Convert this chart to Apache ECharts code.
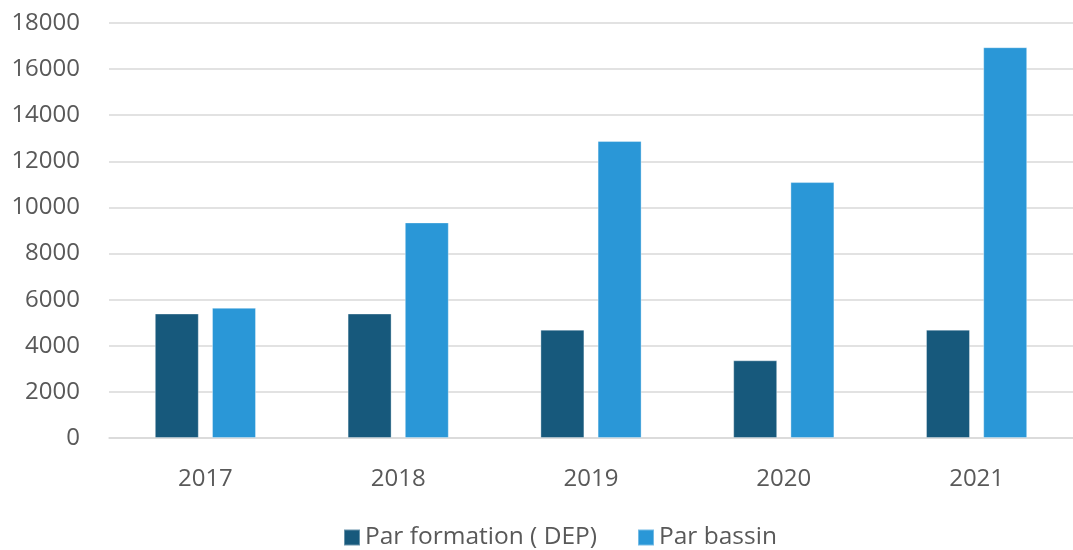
<!DOCTYPE html>
<html><head><meta charset="utf-8">
<script src="https://cdn.jsdelivr.net/npm/echarts@6/dist/echarts.min.js"></script>
<style>html,body{margin:0;padding:0;background:#fff}#c{width:1073px;height:550px}</style>
</head><body><div id="c"></div>
<script>
const categories = ['2017','2018','2019','2020','2021'];
const seriesNames = ['Par formation ( DEP)','Par bassin'];
const parFormation = [5400, 5400, 4700, 3370, 4700];
const parBassin = [5650, 9350, 12880, 11100, 16950];
const yTicks = [0, 2000, 4000, 6000, 8000, 10000, 12000, 14000, 16000, 18000];

const chart = echarts.init(document.getElementById('c'));
const font = '"Open Sans", "Liberation Sans", sans-serif';
chart.setOption({
  animation: false,
  textStyle: { fontFamily: font },
  grid: { left: 109, right: 0, top: 23, bottom: 112 },
  legend: {
    bottom: -5, left: 338,
    itemWidth: 16, itemHeight: 16, itemGap: 40,
    textStyle: { fontFamily: font, fontSize: 24.5, color: '#595959' },
    data: [{name: seriesNames[0], icon: 'rect'}, {name: seriesNames[1], icon: 'rect'}]
  },
  xAxis: {
    type: 'category', data: categories,
    axisLine: { lineStyle: { color: '#D9D9D9', width: 1.5 } },
    axisTick: { show: false },
    axisLabel: { fontFamily: font, fontSize: 24, color: '#595959', margin: 29 }
  },
  yAxis: {
    type: 'value', min: yTicks[0], max: yTicks[yTicks.length-1], interval: 2000,
    axisLine: { show: false }, axisTick: { show: false },
    splitLine: { lineStyle: { color: '#D9D9D9', width: 1.5 } },
    axisLabel: { fontFamily: font, fontSize: 24, color: '#595959', margin: 29,
      formatter: v => String(v) }
  },
  series: [
    { name: seriesNames[0], type: 'bar', data: parFormation, barWidth: 44, barGap: '30%',
      itemStyle: { color: '#17597C', borderColor: 'rgba(255,255,255,0.35)', borderWidth: 1 } },
    { name: seriesNames[1], type: 'bar', data: parBassin, barWidth: 44,
      itemStyle: { color: '#2A97D7', borderColor: 'rgba(255,255,255,0.35)', borderWidth: 1 } }
  ]
});
</script></body></html>
